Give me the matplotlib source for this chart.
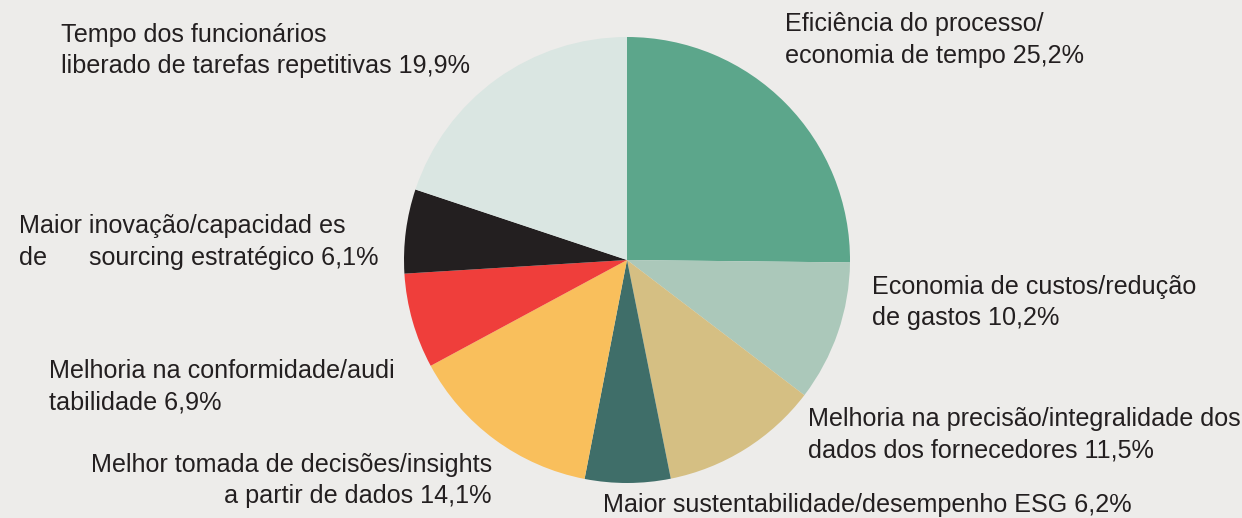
import matplotlib
matplotlib.use("Agg")
import matplotlib.pyplot as plt

# ---- data ----
categories = [
    "Eficiência do processo/\neconomia de tempo",
    "Economia de custos/redução\nde gastos",
    "Melhoria na precisão/integralidade dos\ndados dos fornecedores",
    "Maior sustentabilidade/desempenho ESG",
    "Melhor tomada de decisões/insights\na partir de dados",
    "Melhoria na conformidade/audi\ntabilidade",
    "Maior inovação/capacidad es\nde      sourcing estratégico",
    "Tempo dos funcionários\nliberado de tarefas repetitivas",
]
values = [25.2, 10.2, 11.5, 6.2, 14.1, 6.9, 6.1, 19.9]
value_labels = ["25,2%", "10,2%", "11,5%", "6,2%", "14,1%", "6,9%", "6,1%", "19,9%"]
colors = ["#5CA68B", "#ABC8BA", "#D5BF83", "#3F6E69", "#F9BF5C",
          "#EF3E3B", "#231F20", "#DAE6E2"]

BG = "#EDECEA"
TXT = "#231F20"
W, H = 1242, 518

plt.rcParams['font.family'] = ['Liberation Sans', 'DejaVu Sans']

fig = plt.figure(figsize=(W / 100, H / 100), dpi=100, facecolor=BG)

cx, cy, r = 627, 260, 223
ax = fig.add_axes([(cx - r) / W, (H - cy - r) / H, 2 * r / W, 2 * r / H])
ax.set_facecolor(BG)
ax.pie(values, colors=colors, startangle=90, counterclock=False, radius=1.0,
       normalize=True, wedgeprops=dict(linewidth=0))
ax.set_xlim(-1, 1)
ax.set_ylim(-1, 1)
ax.set_aspect('equal')
ax.axis('off')

# label layout: (x, y of first line center, horizontal alignment)
label_pos = [
    (785, 24, 'left'),
    (872, 287, 'left'),
    (808, 419, 'left'),
    (603, 505, 'left'),
    (492, 465, 'right'),
    (49, 371, 'left'),
    (19, 226, 'left'),
    (61, 35, 'left'),
]
line_gap = 31.5
fs = 18.1

for cat, vl, (x, y, ha) in zip(categories, value_labels, label_pos):
    lines = (cat + " " + vl).split("\n")
    for i, ln in enumerate(lines):
        fig.text(x / W, 1 - (y + i * line_gap) / H, ln, ha=ha, va='center',
                 fontsize=fs, color=TXT)

fig.savefig("out.png", dpi=100, facecolor=BG)
